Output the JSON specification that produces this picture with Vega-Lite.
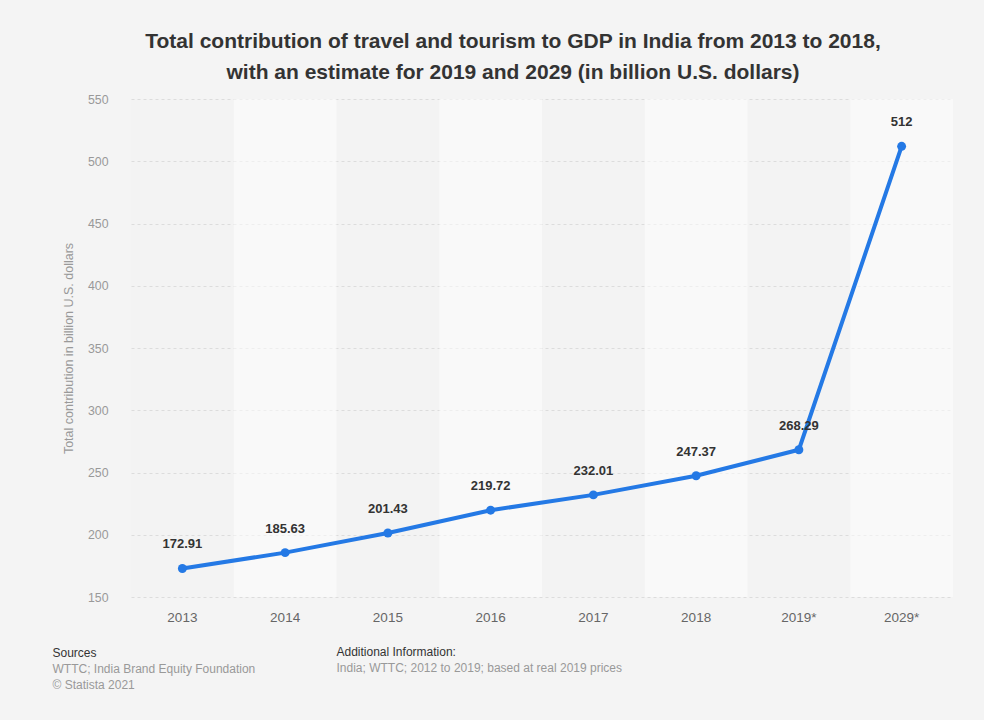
{
  "$schema": "https://vega.github.io/schema/vega-lite/v6.json",
  "width": 822,
  "height": 498,
  "autosize": {"type": "none"},
  "padding": {"left": 131, "top": 99, "right": 31, "bottom": 123},
  "background": "#f4f4f4",
  "config": {
    "view": {"stroke": null, "fill": "#f3f3f3"},
    "font": "Liberation Sans"
  },
  "title": {
    "text": ["Total contribution of travel and tourism to GDP in India from 2013 to 2018,", "with an estimate for 2019 and 2029 (in billion U.S. dollars)"],
    "fontSize": 21,
    "fontWeight": "bold",
    "color": "#333333",
    "lineHeight": 31,
    "anchor": "middle",
    "dx": -29,
    "offset": 10
  },
  "data": {
    "values": [
      {"year": "2013", "value": 172.91},
      {"year": "2014", "value": 185.63},
      {"year": "2015", "value": 201.43},
      {"year": "2016", "value": 219.72},
      {"year": "2017", "value": 232.01},
      {"year": "2018", "value": 247.37},
      {"year": "2019*", "value": 268.29},
      {"year": "2029*", "value": 512}
    ]
  },
  "resolve": {"axis": {"x": "independent"}},
  "layer": [
    {
      "mark": {"type": "rect", "fill": "white"},
      "encoding": {
        "x": {
          "field": "year", "type": "nominal", "sort": null,
          "scale": {"paddingInner": 0, "paddingOuter": 0},
          "axis": {
            "orient": "bottom", "labels": false, "ticks": false, "domain": false, "grid": false,
            "title": ["WTTC; India Brand Equity Foundation", "© Statista 2021"],
            "titleX": -79, "titleY": 75, "titleAlign": "left", "titleBaseline": "alphabetic",
            "titleColor": "#999999", "titleFontSize": 12, "titleFontWeight": "normal", "titleLineHeight": 16
          }
        },
        "y": {"datum": 150, "type": "quantitative"},
        "y2": {"datum": 550},
        "opacity": {
          "condition": {"test": "indexof(['2014','2016','2018','2029*'], datum.year) >= 0", "value": 0.5},
          "value": 0
        }
      }
    },
    {
      "mark": {"type": "line", "color": "#2479e5", "strokeWidth": 4},
      "encoding": {
        "x": {
          "field": "year", "type": "nominal", "sort": null,
          "axis": {
            "orient": "bottom", "labelColor": "#666666", "labelFontSize": 13.5, "labelPadding": 13,
            "labelAngle": 0, "ticks": false, "domain": false, "grid": false,
            "title": "Sources",
            "titleX": -79, "titleY": 59, "titleAlign": "left", "titleBaseline": "alphabetic",
            "titleColor": "#333333", "titleFontSize": 12, "titleFontWeight": "normal"
          }
        },
        "y": {
          "field": "value", "type": "quantitative",
          "scale": {"domain": [150, 550], "nice": false, "zero": false},
          "axis": {
            "title": "Total contribution in billion U.S. dollars",
            "titleColor": "#999999", "titleFontSize": 12.5, "titleFontWeight": "normal", "titlePadding": 12,
            "labelColor": "#999999", "labelFontSize": 12.3, "labelPadding": 23,
            "domain": false, "ticks": false, "grid": true, "gridColor": "#dcdcdc", "gridDash": [3, 3],
            "values": [150, 200, 250, 300, 350, 400, 450, 500, 550]
          }
        }
      }
    },
    {
      "mark": {"type": "point", "filled": true, "color": "#2479e5", "size": 80, "opacity": 1},
      "encoding": {
        "x": {
          "field": "year", "type": "nominal", "sort": null,
          "axis": {
            "orient": "bottom", "labels": false, "ticks": false, "domain": false, "grid": false,
            "title": "Additional Information:",
            "titleX": 205, "titleY": 58, "titleAlign": "left", "titleBaseline": "alphabetic",
            "titleColor": "#333333", "titleFontSize": 12, "titleFontWeight": "normal"
          }
        },
        "y": {
          "field": "value", "type": "quantitative",
          "scale": {"domain": [150, 550], "nice": false, "zero": false},
          "axis": {
            "title": "Total contribution in billion U.S. dollars",
            "titleColor": "#999999", "titleFontSize": 12.5, "titleFontWeight": "normal", "titlePadding": 12,
            "labelColor": "#999999", "labelFontSize": 12.3, "labelPadding": 23,
            "domain": false, "ticks": false, "grid": true, "gridColor": "#dcdcdc", "gridDash": [3, 3],
            "values": [150, 200, 250, 300, 350, 400, 450, 500, 550]
          }
        }
      }
    },
    {
      "mark": {"type": "text", "dy": -24, "fontWeight": "bold", "fontSize": 13, "color": "#333333", "baseline": "middle"},
      "encoding": {
        "x": {
          "field": "year", "type": "nominal", "sort": null,
          "axis": {
            "orient": "bottom", "labels": false, "ticks": false, "domain": false, "grid": false,
            "title": "India; WTTC; 2012 to 2019; based at real 2019 prices",
            "titleX": 205, "titleY": 74, "titleAlign": "left", "titleBaseline": "alphabetic",
            "titleColor": "#999999", "titleFontSize": 12, "titleFontWeight": "normal"
          }
        },
        "y": {
          "field": "value", "type": "quantitative",
          "scale": {"domain": [150, 550], "nice": false, "zero": false},
          "axis": {
            "title": "Total contribution in billion U.S. dollars",
            "titleColor": "#999999", "titleFontSize": 12.5, "titleFontWeight": "normal", "titlePadding": 12,
            "labelColor": "#999999", "labelFontSize": 12.3, "labelPadding": 23,
            "domain": false, "ticks": false, "grid": true, "gridColor": "#dcdcdc", "gridDash": [3, 3],
            "values": [150, 200, 250, 300, 350, 400, 450, 500, 550]
          }
        },
        "text": {"field": "value", "type": "quantitative", "format": ".2~f"}
      }
    }
  ]
}
